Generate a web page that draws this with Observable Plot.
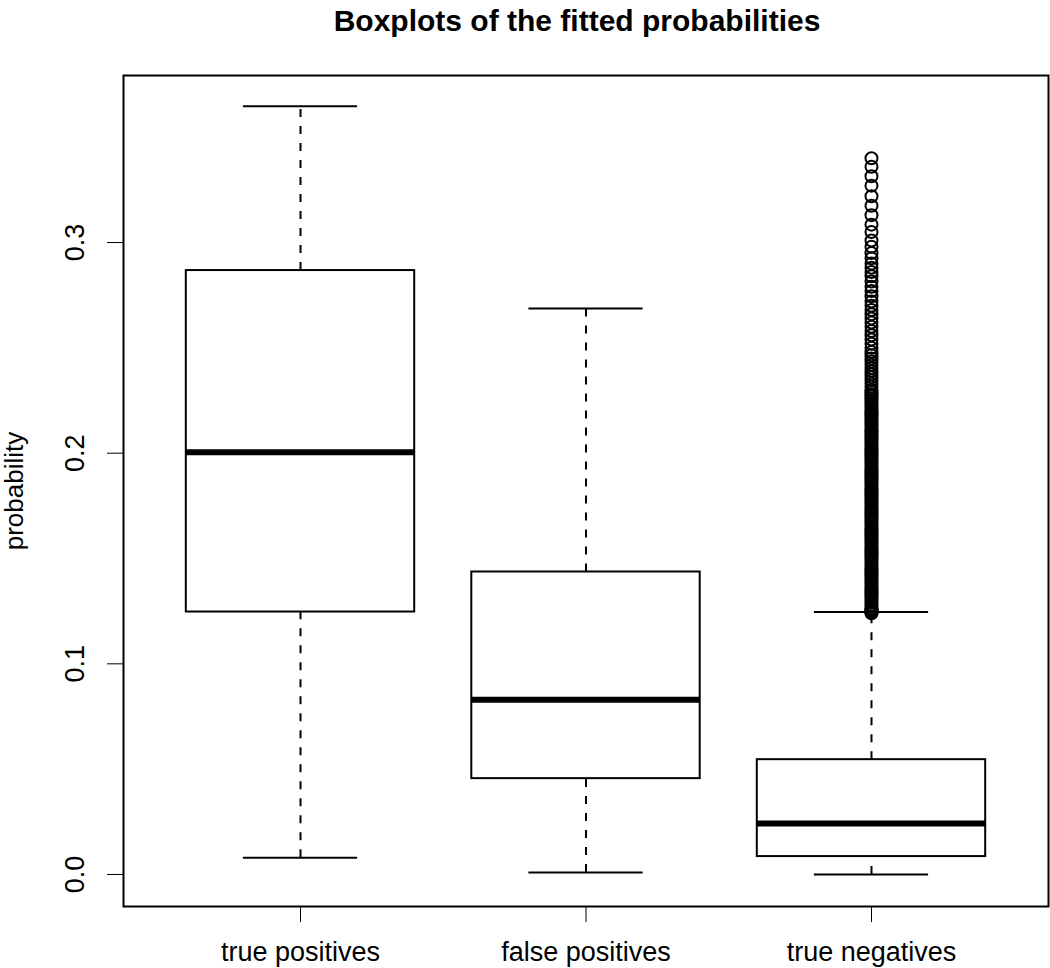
<!DOCTYPE html>
<html>
<head>
<meta charset="utf-8">
<script src="https://cdn.jsdelivr.net/npm/d3@7"></script>
<script src="https://cdn.jsdelivr.net/npm/@observablehq/plot@0.6"></script>
<style>
  html, body { margin: 0; padding: 0; background: white; }
  svg { display: block; }
</style>
</head>
<body>
<div id="chart"></div>
<script>
const title = "Boxplots of the fitted probabilities";
const yLabel = "probability";
const categories = ["true positives", "false positives", "true negatives"];
const positions = [1, 2, 3];
const lowerWhisker = [0.008, 0.001, 0.0];
const q1 = [0.1246, 0.0455, 0.0085];
const median = [0.2005, 0.0829, 0.0242];
const q3 = [0.2867, 0.1436, 0.0545];
const upperWhisker = [0.3647, 0.2687, 0.1246];
const yTicks = [0.0, 0.1, 0.2, 0.3];

// outliers of "true negatives" (position 3)
const tnOutliers = [
0.1240,0.1243,0.1246,0.1250,0.1255,0.1260,0.1270,0.1280,0.1290,0.1300,0.1310,0.1320,0.1330,0.1340,0.1350,0.1360,0.1370,0.1380,0.1390,0.1400,
0.1410,0.1420,0.1430,0.1440,0.1450,0.1460,0.1470,0.1480,0.1490,0.1500,0.1510,0.1520,0.1530,0.1540,0.1550,0.1560,0.1570,0.1580,0.1590,0.1600,
0.1610,0.1620,0.1630,0.1640,0.1650,0.1660,0.1670,0.1680,0.1690,0.1700,0.1710,0.1720,0.1730,0.1740,0.1750,0.1760,0.1770,0.1780,0.1790,0.1800,
0.1810,0.1820,0.1830,0.1840,0.1850,0.1860,0.1870,0.1880,0.1890,0.1900,0.1910,0.1920,0.1930,0.1940,0.1950,0.1960,0.1970,0.1980,0.1990,0.2000,
0.2010,0.2020,0.2030,0.2040,0.2050,0.2060,0.2070,0.2080,0.2090,0.2100,0.2110,0.2120,0.2130,0.2140,0.2150,0.2160,0.2170,0.2180,0.2190,0.2200,
0.2210,0.2220,0.2230,0.2240,0.2250,0.2260,0.2270,0.2280,0.2290,0.2300,0.2315,0.2330,0.2345,0.2360,0.2375,0.2390,0.2405,0.2420,0.2435,0.2450,
0.2465,0.2480,0.2500,0.2520,0.2540,0.2560,0.2580,0.2600,0.2620,0.2640,0.2660,0.2680,0.2700,0.2720,0.2745,0.2770,0.2790,0.2815,0.2840,0.2860,
0.2880,0.2900,0.2925,0.2950,0.2980,0.3010,0.3050,0.3085,0.3130,0.3175,0.3220,0.3270,0.3315,0.3360,0.3400
];

const boxes = positions.map((p, i) => ({
  pos: p, name: categories[i],
  lo: lowerWhisker[i], q1: q1[i], med: median[i], q3: q3[i], hi: upperWhisker[i]
}));
const outliers = tnOutliers.map(v => ({pos: 3, value: v}));

const halfBox = 0.4, halfCap = 0.2;

const chart = Plot.plot({
  width: 1050,
  height: 968,
  marginLeft: 123,
  marginRight: 2,
  marginTop: 75,
  marginBottom: 62,
  style: {fontFamily: "'Liberation Sans', Arial, sans-serif", fontSize: "27px", color: "black", background: "white"},
  x: {
    type: "linear",
    domain: [0.38, 3.62],
    ticks: positions,
    tickFormat: d => categories[d - 1],
    tickSize: 16,
    tickPadding: 19,
    label: null
  },
  y: {
    domain: [-0.0152, 0.3793],
    ticks: yTicks,
    tickFormat: d => d.toFixed(1),
    tickSize: 16,
    tickPadding: 24,
    tickRotate: -90,
    label: null
  },
  marks: [
    Plot.frame({stroke: "black", strokeWidth: 2}),
    // whiskers (dashed)
    Plot.ruleX(boxes, {x: "pos", y1: "q3", y2: "hi", stroke: "black", strokeWidth: 2, strokeDasharray: "8,9"}),
    Plot.ruleX(boxes, {x: "pos", y1: "lo", y2: "q1", stroke: "black", strokeWidth: 2, strokeDasharray: "8,9"}),
    // whisker caps
    Plot.ruleY(boxes, {y: "hi", x1: d => d.pos - halfCap, x2: d => d.pos + halfCap, stroke: "black", strokeWidth: 2}),
    Plot.ruleY(boxes, {y: "lo", x1: d => d.pos - halfCap, x2: d => d.pos + halfCap, stroke: "black", strokeWidth: 2}),
    // boxes
    Plot.rect(boxes, {x1: d => d.pos - halfBox, x2: d => d.pos + halfBox, y1: "q1", y2: "q3", fill: "white", stroke: "black", strokeWidth: 2}),
    // medians
    Plot.ruleY(boxes, {y: "med", x1: d => d.pos - halfBox, x2: d => d.pos + halfBox, stroke: "black", strokeWidth: 6}),
    // outliers
    Plot.dot(outliers, {x: "pos", y: "value", r: 6, stroke: "black", strokeWidth: 2, fill: "none"}),
    // title
    Plot.text([title], {frameAnchor: "top", dx: -9, dy: -66, fontSize: 30, fontWeight: "bold", fill: "black"}),
    // y label
    Plot.text([yLabel], {frameAnchor: "left", dx: -109, rotate: -90, textAnchor: "middle", fontSize: 26, fill: "black"})
  ]
});
document.getElementById("chart").appendChild(chart);
</script>
</body>
</html>
